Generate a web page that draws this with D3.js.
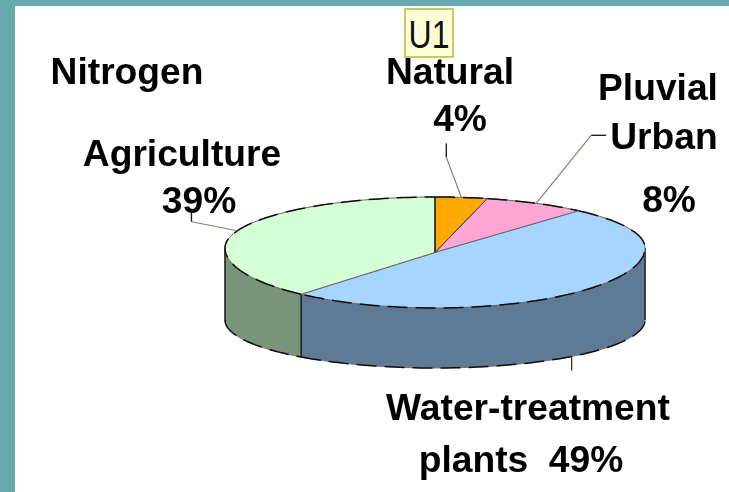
<!DOCTYPE html>
<html>
<head>
<meta charset="utf-8">
<script src="https://cdn.jsdelivr.net/npm/d3@7"></script>
<style>
  html, body { margin: 0; padding: 0; background: #66aab0; }
  svg { display: block; }
  text { font-family: "Liberation Sans", Arial, sans-serif; }
  .lbl { font-weight: bold; font-size: 37.2px; fill: #000; text-anchor: middle; }
</style>
</head>
<body>
<svg id="chart" width="729" height="492"></svg>
<script>
const categories = ['Natural', 'Pluvial Urban', 'Water-treatment plants', 'Agriculture']
const shares = [4, 8, 49, 39]

const topColors = ['#ffa900', '#ffa6d5', '#a6d5ff', '#d5ffd5']
const wallColors = ['#997000', '#99647f', '#5f7a94', '#7a947a']

/*label lines: text, x center, baseline*/
const labelTexts = ['Nitrogen', 'Natural', '4%', 'Pluvial', 'Urban', '8%', 'Agriculture', '39%', 'Water-treatment', 'plants  49%']
const labelX = [127, 450, 460, 658, 664, 669, 182, 199, 528, 521]
const labelY = [84, 84, 131, 100, 149, 212, 166, 213, 420, 472]

/*leader lines, elbow offsets from the slice edge*/
const leaderShift = [0, 0, 8, 0]
const leaderElbow = [[-15, -40], [55, -68], [0, 14], [-46, -9]]
const leaderEnd = [[-15, -54], [70, -68], [0, 14], [-46, -19]]

const svg = d3.select('#chart')

svg.append('defs').append('filter')
  .attr('id', 'soft')
  .append('feGaussianBlur')
  .attr('stdDeviation', 0.55)

svg.append('rect')
  .attr('x', 15).attr('y', 6)
  .attr('width', 714).attr('height', 486)
  .attr('fill', '#fff')

const cx = 435, cy = 252.5, rx = 210

const xScale = d3.scaleLinear().domain([-1, 1]).range([cx - rx, cx + rx])
/*a borda nao e uma elipse perfeita: metade de cima mais achatada*/
const yScale = d3.scaleLinear().domain([-1, 0, 1]).range([197, 248, 308])
const yLow = d3.scaleLinear().domain([-1, 0, 1]).range([320, 320, 368])

const pie = d3.pie().sort(null)
const slices = pie(shares)

const rimPoint = (a) => [xScale(Math.sin(a)), yScale(-Math.cos(a))]
const lowPoint = (a) => [xScale(Math.sin(a)), yLow(-Math.cos(a))]
const angles = (a0, a1) => {
  const n = Math.max(2, Math.ceil((a1 - a0) * 40))
  return d3.range(n + 1).map((i) => a0 + (a1 - a0) * i / n)
}
const line = d3.line()

const chart = svg.append('g').attr('filter', 'url(#soft)')

/*parede lateral*/
slices.forEach((d, i) => {
  const a0 = Math.max(d.startAngle, Math.PI / 2)
  const a1 = Math.min(d.endAngle, Math.PI * 1.5)
  if (a1 <= a0) return
  const steps = angles(a0, a1)
  const topEdge = steps.map(rimPoint)
  const lowEdge = steps.map(lowPoint).reverse()

  chart.append('path')
    .attr('d', line(topEdge.concat(lowEdge)) + 'Z')
    .attr('fill', wallColors[i])
    .attr('stroke', '#777')
    .attr('stroke-width', 1)

  chart.append('path')
    .attr('d', line(lowEdge))
    .attr('fill', 'none')
    .attr('stroke', '#111')
    .attr('stroke-width', 1.5)
    .attr('stroke-dasharray', '20 8')

  /*arestas verticais*/
  ;[a0, a1].forEach((a) => {
    const p = rimPoint(a), q = lowPoint(a)
    chart.append('line')
      .attr('x1', p[0]).attr('y1', p[1])
      .attr('x2', q[0]).attr('y2', q[1])
      .attr('stroke', '#222')
      .attr('stroke-width', 1.5)
  })
})

/*topo*/
slices.forEach((d, i) => {
  const rim = angles(d.startAngle, d.endAngle).map(rimPoint)
  chart.append('path')
    .attr('d', line([[cx, cy]].concat(rim)) + 'Z')
    .attr('fill', topColors[i])
    .attr('stroke', '#666')
    .attr('stroke-width', 1)

  chart.append('path')
    .attr('d', line(rim))
    .attr('fill', 'none')
    .attr('stroke', '#111')
    .attr('stroke-width', 1.5)
    .attr('stroke-dasharray', '20 8')
})

/*raios escuros da fatia natural*/
const startPoint = rimPoint(0)
chart.append('line')
  .attr('x1', cx).attr('y1', cy)
  .attr('x2', startPoint[0]).attr('y2', startPoint[1])
  .attr('stroke', '#222')
  .attr('stroke-width', 1.5)
const natEnd = rimPoint(slices[0].endAngle)
chart.append('line')
  .attr('x1', cx).attr('y1', cy)
  .attr('x2', natEnd[0]).attr('y2', natEnd[1])
  .attr('stroke', '#444')
  .attr('stroke-width', 1)

/*linhas de ligacao*/
slices.forEach((d, i) => {
  const mid = (d.startAngle + d.endAngle) / 2 + leaderShift[i] * Math.PI / 180
  const base = Math.cos(mid) < 0 ? lowPoint(mid) : rimPoint(mid)
  const elbow = [base[0] + leaderElbow[i][0], base[1] + leaderElbow[i][1]]
  const end = [base[0] + leaderEnd[i][0], base[1] + leaderEnd[i][1]]
  chart.append('path')
    .attr('d', line([base, elbow]))
    .attr('fill', 'none')
    .attr('stroke', i == 2 ? '#222' : '#8a7f70')
    .attr('stroke-width', 1.2)
  chart.append('path')
    .attr('d', line([elbow, end]))
    .attr('fill', 'none')
    .attr('stroke', '#222')
    .attr('stroke-width', 1.4)
})

/*textos*/
chart.selectAll('text.lbl')
  .data(labelTexts)
  .enter()
  .append('text')
  .attr('class', 'lbl')
  .attr('xml:space', 'preserve')
  .style('white-space', 'pre')
  .attr('x', (d, i) => labelX[i])
  .attr('y', (d, i) => labelY[i])
  .text((d) => d)

/*caixa U1*/
svg.append('rect')
  .attr('x', 405).attr('y', 9)
  .attr('width', 48).attr('height', 48)
  .attr('fill', '#ffffd8')
  .attr('stroke', '#bcbc3c')
  .attr('stroke-width', 1.6)

svg.append('text')
  .attr('x', 429).attr('y', 48)
  .attr('text-anchor', 'middle')
  .attr('font-size', 39)
  .attr('fill', '#111')
  .attr('textLength', 41)
  .attr('lengthAdjust', 'spacingAndGlyphs')
  .text('U1')
</script>
</body>
</html>
